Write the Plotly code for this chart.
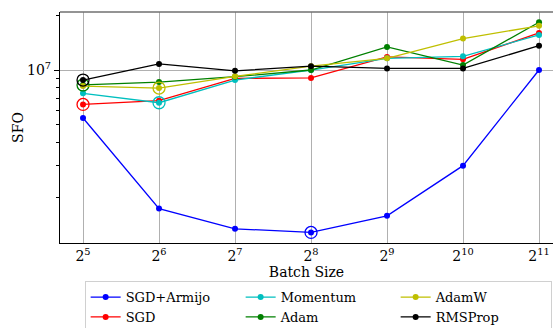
import numpy as np
import plotly.graph_objects as go

batch_sizes = [32, 64, 128, 256, 512, 1024, 2048]
tick_labels = ["2<sup>5</sup>", "2<sup>6</sup>", "2<sup>7</sup>", "2<sup>8</sup>",
               "2<sup>9</sup>", "2<sup>10</sup>", "2<sup>11</sup>"]

sgd_armijo = [5.45e6, 1.73e6, 1.34e6, 1.28e6, 1.58e6, 2.98e6, 1.0e7]
sgd        = [6.47e6, 6.78e6, 9.0e6, 9.05e6, 1.18e7, 1.145e7, 1.6e7]
momentum   = [7.45e6, 6.61e6, 8.81e6, 1.0e7, 1.16e7, 1.19e7, 1.56e7]
adam       = [8.28e6, 8.59e6, 9.19e6, 1.0e7, 1.34e7, 1.065e7, 1.83e7]
adamw      = [8.16e6, 7.96e6, 9.23e6, 1.05e7, 1.16e7, 1.49e7, 1.75e7]
rmsprop    = [8.81e6, 1.08e7, 9.9e6, 1.05e7, 1.02e7, 1.02e7, 1.36e7]

series = [
    ("SGD+Armijo", sgd_armijo, "#0000ff", 1),
    ("SGD", sgd, "#ff0000", 4),
    ("Momentum", momentum, "#00bfbf", 2),
    ("Adam", adam, "#008000", 5),
    ("AdamW", adamw, "#bfbf00", 3),
    ("RMSProp", rmsprop, "#000000", 6),
]

FONT = "DejaVu Serif"
fig = go.Figure()
for name, vals, color, rank in series:
    fig.add_trace(go.Scatter(
        x=batch_sizes, y=vals, name=name, mode="lines+markers",
        line=dict(color=color, width=1.3),
        marker=dict(color=color, size=6),
        legendrank=rank,
    ))
    i = int(np.argmin(vals))
    fig.add_trace(go.Scatter(
        x=[batch_sizes[i]], y=[vals[i]], mode="markers", showlegend=False,
        marker=dict(symbol="circle-open", color=color, size=12, line=dict(width=1.3)),
        hoverinfo="skip",
    ))

minor_vals = []
for d in [1e6, 1e7]:
    for k in range(1, 10):
        minor_vals.append(k * d)

fig.update_layout(
    width=553, height=328,
    margin=dict(l=60, r=0, t=12, b=85, autoexpand=False),
    plot_bgcolor="white", paper_bgcolor="white",
    font=dict(family=FONT, size=14, color="black"),
    showlegend=True,
    legend=dict(
        orientation="h", x=0.05, xanchor="left",
        yref="container", y=0.143, yanchor="top",
        font=dict(family=FONT, size=13),
        bordercolor="#d0d0d0", borderwidth=1,
        entrywidth=110, entrywidthmode="pixels",
        traceorder="normal", itemwidth=30,
        tracegroupgap=0,
    ),
    xaxis=dict(
        type="log",
        range=[np.log10(2) * 4.697, np.log10(2) * 11.184],
        tickvals=batch_sizes, ticktext=tick_labels,
        showgrid=True, gridcolor="#b0b0b0", gridwidth=1,
        showline=True, linecolor="black", linewidth=1.2,
        ticks="",
        tickfont=dict(family=FONT, size=14),
        title=dict(text="Batch Size", font=dict(family=FONT, size=14), standoff=3),
        zeroline=False, automargin=False,
    ),
    yaxis=dict(
        type="log",
        range=[6.049, 7.319],
        tickvals=[1e7], ticktext=["10<sup>7</sup>"],
        showgrid=True, gridcolor="#b0b0b0", gridwidth=1,
        showline=True, linecolor="black", linewidth=1.2,
        ticks="outside", ticklen=5, tickcolor="black",
        tickfont=dict(family=FONT, size=14),
        minor=dict(tickmode="array", tickvals=minor_vals, ticks="outside",
                   ticklen=3, tickcolor="black", showgrid=False),
        title=dict(text="SFO", font=dict(family=FONT, size=14), standoff=0),
        zeroline=False, automargin=False,
    ),
)
fig.add_shape(type="line", xref="paper", yref="paper", x0=0, x1=1, y0=1, y1=1,
              line=dict(color="#707070", width=1.5))
fig.write_html("out.html")
